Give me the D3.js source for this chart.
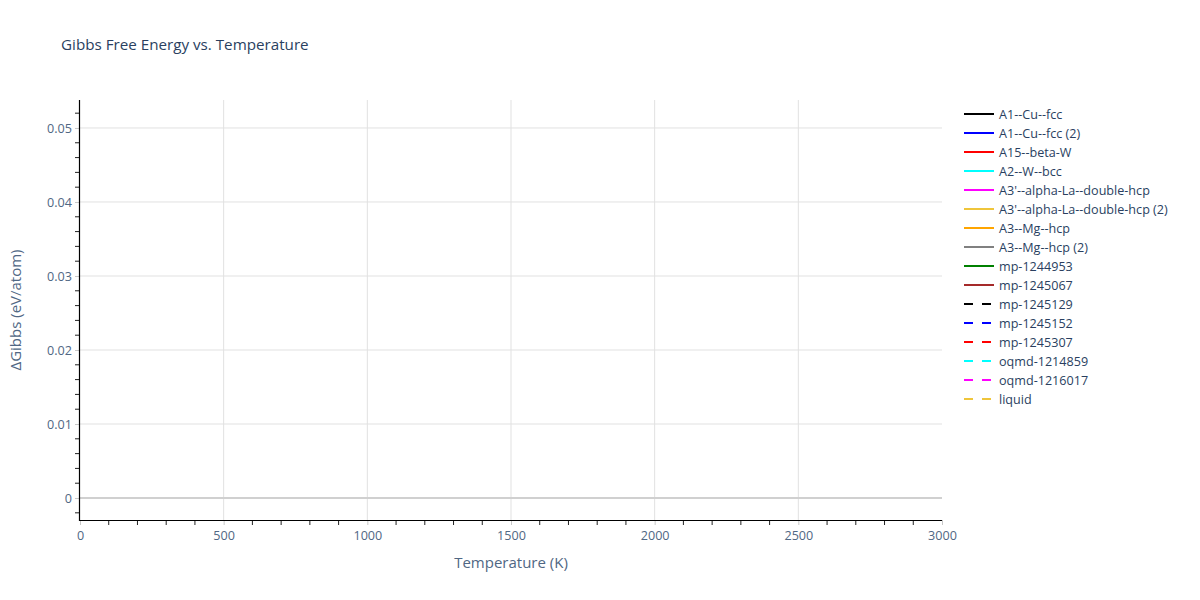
<!DOCTYPE html>
<html>
<head>
<meta charset="utf-8">
<script src="https://cdn.jsdelivr.net/npm/d3@7"></script>
<style>
  body { margin: 0; background: #fff; }
  text { font-family: "Open Sans", Verdana, Arial, sans-serif; fill: #2a3f5f; }
</style>
</head>
<body>
<svg id="chart" width="1200" height="600"></svg>
<script>
// chart values
var xTicks = [0, 500, 1000, 1500, 2000, 2500, 3000];
var yTicks = [0, 0.01, 0.02, 0.03, 0.04, 0.05];
var xRange = [0, 3000];
var yRange = [-0.00297, 0.05378];

var seriesNames = [
  "A1--Cu--fcc", "A1--Cu--fcc (2)", "A15--beta-W", "A2--W--bcc",
  "A3'--alpha-La--double-hcp", "A3'--alpha-La--double-hcp (2)",
  "A3--Mg--hcp", "A3--Mg--hcp (2)", "mp-1244953", "mp-1245067",
  "mp-1245129", "mp-1245152", "mp-1245307", "oqmd-1214859",
  "oqmd-1216017", "liquid"
];
var seriesColors = [
  "black", "blue", "red", "cyan", "magenta", "#efc53b", "orange", "gray",
  "green", "brown", "black", "blue", "red", "cyan", "magenta", "#efc53b"
];
var seriesDashed = [
  false, false, false, false, false, false, false, false,
  false, false, true, true, true, true, true, true
];
// no points are visible in the plot area, so every series is empty
var seriesTemps = seriesNames.map(function(){ return []; });
var seriesValues = seriesNames.map(function(){ return []; });

var margin = {left: 80, right: 258, top: 100, bottom: 80};
var W = 1200, H = 600;
var svg = d3.select("#chart");

var x = d3.scaleLinear().domain(xRange).range([margin.left, W - margin.right]);
var y = d3.scaleLinear().domain(yRange).range([H - margin.bottom, margin.top]);

var g = svg.append("g");

// grid
g.selectAll(".xgrid").data(xTicks.filter(function(d){ return d > 0 && d < 3000; }))
  .enter().append("line")
  .attr("x1", function(d){ return x(d); }).attr("x2", function(d){ return x(d); })
  .attr("y1", y.range()[1]).attr("y2", y.range()[0])
  .attr("stroke", "#e1e1e1").attr("stroke-width", 1);

g.selectAll(".ygrid").data(yTicks.filter(function(d){ return d !== 0; }))
  .enter().append("line")
  .attr("x1", x.range()[0]).attr("x2", x.range()[1])
  .attr("y1", function(d){ return y(d); }).attr("y2", function(d){ return y(d); })
  .attr("stroke", "#e1e1e1").attr("stroke-width", 1);

// zero line
g.append("line")
  .attr("x1", x.range()[0]).attr("x2", x.range()[1])
  .attr("y1", y(0)).attr("y2", y(0))
  .attr("stroke", "#d0d0d0").attr("stroke-width", 2);

// series
var line = d3.line()
  .x(function(d){ return x(d[0]); })
  .y(function(d){ return y(d[1]); });

seriesNames.forEach(function(name, i){
  var pts = seriesTemps[i].map(function(t, j){ return [t, seriesValues[i][j]]; });
  g.append("path")
    .datum(pts)
    .attr("d", line)
    .attr("fill", "none")
    .attr("stroke", seriesColors[i])
    .attr("stroke-width", 2)
    .attr("stroke-dasharray", seriesDashed[i] ? "9,9" : null);
});

// minor ticks
var xMinor = d3.range(0, 3001, 100).filter(function(d){ return d % 500 !== 0; });
var yMinor = d3.range(-0.002, 0.0537, 0.002).filter(function(d){
  return Math.abs(Math.round(d / 0.01) * 0.01 - d) > 1e-6;
});

var xAxis = d3.axisBottom(x).tickValues(xTicks).tickSize(5).tickPadding(6)
  .tickFormat(d3.format("d"));
var gx = svg.append("g").attr("transform", "translate(0," + (H - margin.bottom) + ")").call(xAxis);
gx.select(".domain").remove();
gx.selectAll(".tick line").attr("stroke", "#c8c8c8").attr("stroke-width", 1);
gx.selectAll(".tick text").attr("font-size", 12.6).style("fill", "#506784");
gx.selectAll(".minor").data(xMinor).enter().append("line")
  .attr("x1", function(d){ return x(d); }).attr("x2", function(d){ return x(d); })
  .attr("y1", 0).attr("y2", 5).attr("stroke", "#222").attr("stroke-width", 1);
gx.append("line").attr("x1", x.range()[0] - 1).attr("x2", x.range()[1])
  .attr("y1", 0.5).attr("y2", 0.5).attr("stroke", "#000").attr("stroke-width", 1.2);

var yAxis = d3.axisLeft(y).tickValues(yTicks).tickSize(5).tickPadding(3)
  .tickFormat(function(d){ return d === 0 ? "0" : d3.format(".2f")(d); });
var gy = svg.append("g").attr("transform", "translate(" + margin.left + ",0)").call(yAxis);
gy.select(".domain").remove();
gy.selectAll(".tick line").attr("stroke", "#c8c8c8").attr("stroke-width", 1);
gy.selectAll(".tick text").attr("font-size", 12.6).style("fill", "#506784");
gy.selectAll(".minor").data(yMinor).enter().append("line")
  .attr("y1", function(d){ return y(d); }).attr("y2", function(d){ return y(d); })
  .attr("x1", 0).attr("x2", -5).attr("stroke", "#222").attr("stroke-width", 1);
gy.append("line").attr("x1", -0.5).attr("x2", -0.5)
  .attr("y1", y.range()[1]).attr("y2", y.range()[0] + 1)
  .attr("stroke", "#000").attr("stroke-width", 1.2);

// title and axis labels
svg.append("text").attr("x", 61).attr("y", 50)
  .attr("font-size", 15.2).text("Gibbs Free Energy vs. Temperature");

svg.append("text")
  .attr("x", (x.range()[0] + x.range()[1]) / 2).attr("y", 568)
  .attr("text-anchor", "middle").attr("font-size", 15)
  .style("fill", "#506784")
  .text("Temperature (K)");

svg.append("text")
  .attr("transform", "translate(21," + ((y.range()[0] + y.range()[1]) / 2) + ") rotate(-90)")
  .attr("text-anchor", "middle").attr("font-size", 15)
  .style("fill", "#506784")
  .text("\u0394Gibbs (eV/atom)");

// legend
var legend = svg.append("g").attr("transform", "translate(964,114)");
seriesNames.forEach(function(name, i){
  var row = legend.append("g").attr("transform", "translate(0," + (i * 19) + ")");
  row.append("line").attr("x1", 0).attr("x2", 30).attr("y1", 0).attr("y2", 0)
    .attr("stroke", seriesColors[i]).attr("stroke-width", 2)
    .attr("stroke-dasharray", seriesDashed[i] ? "9,9" : null);
  row.append("text").attr("x", 35).attr("y", 4.5)
    .attr("font-size", 12.6).style("fill", "#2a3f5f").text(name);
});
</script>
</body>
</html>
